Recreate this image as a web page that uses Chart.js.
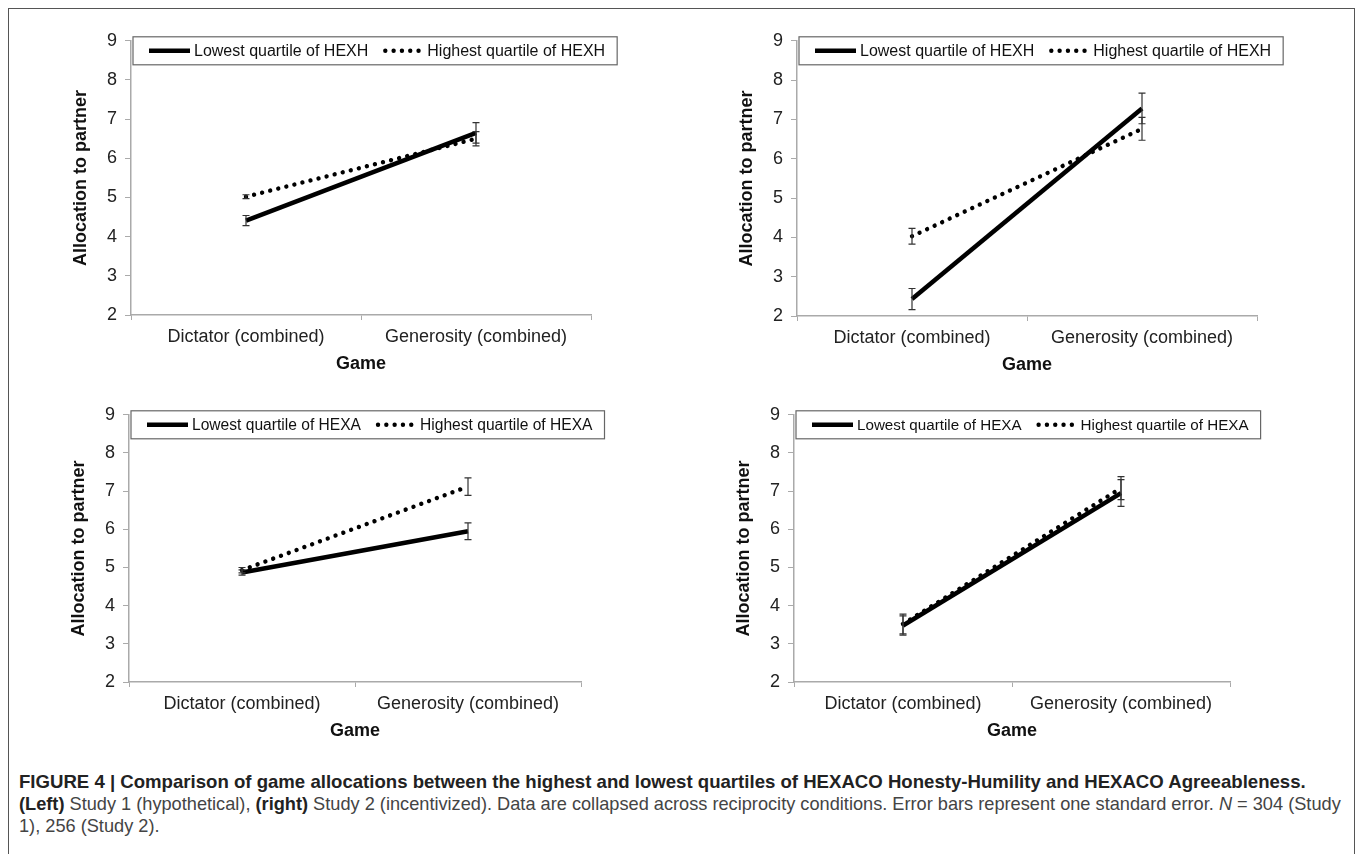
<!DOCTYPE html>
<html>
<head>
<meta charset="utf-8">
<script src="https://cdn.jsdelivr.net/npm/chart.js@4.4.1/dist/chart.umd.min.js"></script>
<style>
html, body { margin: 0; padding: 0; background: #fff; }
body { width: 1357px; height: 854px; position: relative; overflow: hidden; font-family: "Liberation Sans", Arial, sans-serif; }
#frame { position: absolute; left: 8px; top: 8px; width: 1347px; height: 900px; border: 1.5px solid #555; box-sizing: border-box; }
canvas { position: absolute; }
#caption { position: absolute; left: 19px; top: 771px; font-size: 18.2px; line-height: 22px; color: #444; white-space: nowrap; }
#caption .head { font-weight: bold; font-size: 18.6px; color: #222; }
#caption b { color: #222; }
</style>
</head>
<body>
<div id="frame"></div>
<canvas id="c1"></canvas>
<canvas id="c2"></canvas>
<canvas id="c3"></canvas>
<canvas id="c4"></canvas>
<div id="caption">
  <div class="head">FIGURE 4 | Comparison of game allocations between the highest and lowest quartiles of HEXACO Honesty-Humility and HEXACO Agreeableness.</div>
  <div><b>(Left)</b> Study 1 (hypothetical), <b>(right)</b> Study 2 (incentivized). Data are collapsed across reciprocity conditions. Error bars represent one standard error. <i>N</i> = 304 (Study</div>
  <div>1), 256 (Study 2).</div>
</div>
<script>
const FONT = '"Liberation Sans", Arial, sans-serif';

const games = ['Dictator (combined)', 'Generosity (combined)'];
const yTicks = [2, 3, 4, 5, 6, 7, 8, 9];

// Study 1 (hypothetical), Honesty-Humility
const s1HexhLow = [4.41, 6.65];
const s1HexhLowSe = [0.13, 0.26];
const s1HexhHigh = [5.02, 6.50];
const s1HexhHighSe = [0.05, 0.18];

// Study 2 (incentivized), Honesty-Humility
const s2HexhLow = [2.43, 7.28];
const s2HexhLowSe = [0.27, 0.39];
const s2HexhHigh = [4.03, 6.76];
const s2HexhHighSe = [0.20, 0.29];

// Study 1, Agreeableness
const s1HexaLow = [4.87, 5.95];
const s1HexaLowSe = [0.07, 0.22];
const s1HexaHigh = [4.93, 7.12];
const s1HexaHighSe = [0.07, 0.23];

// Study 2, Agreeableness
const s2HexaLow = [3.48, 6.95];
const s2HexaLowSe = [0.25, 0.35];
const s2HexaHigh = [3.52, 7.08];
const s2HexaHighSe = [0.26, 0.30];

Chart.defaults.font.family = FONT;

const Y_W = 80, X_H = 64, PAD_T = 14, PAD_R = 40;

const panels = [
  { id: 'c1', area: { left: 131, top: 36, right: 591, bottom: 315 }, trait: 'HEXH', low: s1HexhLow, lowSe: s1HexhLowSe, high: s1HexhHigh, highSe: s1HexhHighSe, legendSize: 16 },
  { id: 'c2', area: { left: 797, top: 36, right: 1257, bottom: 316 }, trait: 'HEXH', low: s2HexhLow, lowSe: s2HexhLowSe, high: s2HexhHigh, highSe: s2HexhHighSe, legendSize: 16 },
  { id: 'c3', area: { left: 129, top: 410, right: 581, bottom: 682 }, trait: 'HEXA', low: s1HexaLow, lowSe: s1HexaLowSe, high: s1HexaHigh, highSe: s1HexaHighSe, legendSize: 15.6 },
  { id: 'c4', area: { left: 794, top: 410, right: 1230, bottom: 682 }, trait: 'HEXA', low: s2HexaLow, lowSe: s2HexaLowSe, high: s2HexaHigh, highSe: s2HexaHighSe, legendSize: 15.2 }
];

// vertical error bars from each dataset's se array
const errorBars = {
  id: 'errorBars',
  afterDatasetsDraw(chart) {
    const { ctx, scales: { x, y } } = chart;
    ctx.save();
    ctx.strokeStyle = '#333';
    ctx.lineWidth = 1.2;
    chart.data.datasets.forEach(ds => {
      ds.data.forEach((v, i) => {
        const px = x.getPixelForValue(i);
        const top = y.getPixelForValue(v + ds.se[i]);
        const bot = y.getPixelForValue(v - ds.se[i]);
        ctx.beginPath();
        ctx.moveTo(px, top); ctx.lineTo(px, bot);
        ctx.moveTo(px - 3.5, top); ctx.lineTo(px + 3.5, top);
        ctx.moveTo(px - 3.5, bot); ctx.lineTo(px + 3.5, bot);
        ctx.stroke();
      });
    });
    ctx.restore();
  }
};

// boxed legend overlapping the top of the plot, like the Excel original
const boxLegend = {
  id: 'boxLegend',
  afterDraw(chart, args, opts) {
    const { ctx, chartArea } = chart;
    const size = opts.size;
    ctx.save();
    ctx.font = size + 'px ' + FONT;
    const items = chart.data.datasets.map(ds => ({ ds, w: ctx.measureText(ds.label).width }));
    const sample = [41, 38];
    let w = 16;
    items.forEach((it, i) => { w += sample[i] + (i === 0 ? 4 : 6) + it.w + (i === 0 ? 15 : 12); });
    const bx = chartArea.left + 2, by = chartArea.top - 4, bh = 28;
    ctx.fillStyle = '#fff';
    ctx.fillRect(bx, by, w, bh);
    ctx.strokeStyle = '#666';
    ctx.lineWidth = 1.2;
    ctx.strokeRect(bx, by, w, bh);
    const cy = by + bh / 2;
    let cx = bx + 16;
    items.forEach((it, i) => {
      const ds = it.ds;
      ctx.save();
      ctx.strokeStyle = ds.borderColor;
      ctx.lineWidth = ds.borderWidth;
      ctx.lineCap = ds.borderCapStyle || 'butt';
      ctx.setLineDash(ds.borderDash || []);
      ctx.beginPath();
      const x0 = i === 0 ? cx : cx + 2;
      ctx.moveTo(x0, cy);
      ctx.lineTo(cx + sample[i], cy);
      ctx.stroke();
      ctx.restore();
      cx += sample[i] + (i === 0 ? 4 : 6);
      ctx.fillStyle = '#111';
      ctx.textBaseline = 'middle';
      ctx.textAlign = 'left';
      ctx.fillText(ds.label, cx, cy + 1);
      cx += it.w + 15;
    });
    ctx.restore();
  }
};

function makePanel(p) {
  const canvas = document.getElementById(p.id);
  const a = p.area;
  const w = Y_W + (a.right - a.left) + PAD_R;
  const h = PAD_T + (a.bottom - a.top) + X_H;
  canvas.width = w;
  canvas.height = h;
  canvas.style.width = w + 'px';
  canvas.style.height = h + 'px';
  canvas.style.left = (a.left - Y_W) + 'px';
  canvas.style.top = (a.top - PAD_T) + 'px';

  return new Chart(canvas, {
    type: 'line',
    data: {
      labels: games,
      datasets: [
        { label: 'Lowest quartile of ' + p.trait, data: p.low, se: p.lowSe, borderColor: '#000', borderWidth: 4.5, borderCapStyle: 'butt', pointRadius: 0, tension: 0, fill: false },
        { label: 'Highest quartile of ' + p.trait, data: p.high, se: p.highSe, borderColor: '#000', borderWidth: 4.4, borderDash: [0.01, 8.3], borderCapStyle: 'round', pointRadius: 0, tension: 0, fill: false }
      ]
    },
    options: {
      responsive: false,
      animation: false,
      devicePixelRatio: 1,
      events: [],
      layout: { padding: { top: PAD_T, right: PAD_R, bottom: 0, left: 0 } },
      plugins: {
        legend: { display: false },
        tooltip: { enabled: false },
        boxLegend: { size: p.legendSize }
      },
      scales: {
        x: {
          offset: true,
          grid: { offset: true, drawOnChartArea: false, drawTicks: true, tickLength: 5, color: '#aaa', lineWidth: 1 },
          border: { color: '#aaa', width: 1.5 },
          ticks: { color: '#222', font: { size: 18 }, padding: 6, autoSkip: false, maxRotation: 0 },
          title: { display: true, text: 'Game', color: '#111', font: { size: 18, weight: 'bold' }, padding: { top: 0, bottom: 4 } },
          afterFit(s) { s.height = X_H; }
        },
        y: {
          min: yTicks[0],
          max: yTicks[yTicks.length - 1],
          grid: { drawOnChartArea: false, drawTicks: true, tickLength: 6, color: '#aaa', lineWidth: 1 },
          border: { color: '#aaa', width: 1.5 },
          ticks: { stepSize: 1, color: '#222', font: { size: 18 }, padding: 8 },
          afterBuildTicks(s) { s.ticks = yTicks.map(v => ({ value: v })); },
          title: { display: true, text: 'Allocation to partner', color: '#111', font: { size: 18, weight: 'bold' }, padding: { top: 19, bottom: 0 } },
          afterFit(s) { s.width = Y_W; }
        }
      }
    },
    plugins: [errorBars, boxLegend]
  });
}

panels.forEach(makePanel);
</script>
</body>
</html>
